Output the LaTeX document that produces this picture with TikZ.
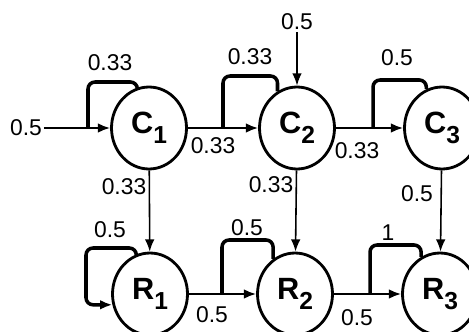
\documentclass[tikz,border=0pt]{standalone}
\usepackage{fontspec}
\setmainfont{Liberation Sans}
\usetikzlibrary{arrows.meta,shapes.geometric}
\def\state#1#2{\textbf{#1}\raisebox{-5.5pt}{\fontsize{14}{14}\selectfont\bfseries #2}}

\begin{document}
\begin{tikzpicture}[x=0.02cm,y=-0.02cm,
	st/.style={ellipse,draw,line width=1.6pt,minimum width=1.5cm,minimum height=1.64cm,inner sep=0pt,font=\fontsize{17.5}{17.5}\selectfont},
	lbl/.style={font=\fontsize{13}{14}\selectfont,inner sep=1pt},
	edge/.style={line width=1.1pt,-{Latex[length=7pt,width=5.5pt]}},
	down/.style={line width=0.9pt,-{Latex[length=7pt,width=5.5pt]}},
	loopy/.style={line width=2pt,rounded corners=4pt}]
	\useasboundingbox (0,0) rectangle (469,331);
	
	%STATES
	\node[st] (C1) at (149,128) {\state{C}{1}};
	\node[st] (C2) at (297,128) {\state{C}{2}};
	\node[st] (C3) at (442,128) {\state{C}{3}};
	\node[st] (R1) at (150,294) {\state{R}{1}};
	\node[st] (R2) at (295,294) {\state{R}{2}};
	\node[st] (R3) at (440,294) {\state{R}{3}};
	
	%LABELS
	\node[lbl] (in1) at (26,128)  {0.5};
	\node[lbl] (in2) at (297,22)  {0.5};
	\node[lbl] (p11) at (110,63)  {0.33};
	\node[lbl] (p22) at (250,57)  {0.33};
	\node[lbl] (p33) at (397,58)  {0.5};
	\node[lbl] (p12) at (213,146) {0.33};
	\node[lbl] (p23) at (357,151) {0.33};
	\node[lbl] (q1)  at (124,187) {0.33};
	\node[lbl] (q2)  at (271,185) {0.33};
	\node[lbl] (q3)  at (417,194) {0.5};
	\node[lbl] (r11) at (110,230) {0.5};
	\node[lbl] (r22) at (247,228) {0.5};
	\node[lbl] (r33) at (388,233) {1};
	\node[lbl] (r12) at (212,315) {0.5};
	\node[lbl] (r23) at (357,318) {0.5};
	
	%ARROWS
	%top row
	\draw[edge] (in1) -- (C1);
	\draw[edge] (C1) -- (C2);
	\draw[edge] (C2) -- (C3);
	\draw[down] (in2) -- (C2);
	%bottom row
	\draw[edge] (R1) -- (R2);
	\draw[edge] (R2) -- (R3);
	%columns
	\draw[down] (C1) -- (R1);
	\draw[down] (C2) -- (R2);
	\draw[down] (C3) -- (R3);
	
	%LOOPS
	\draw[loopy] (C1.106) |- (88,82)  -- (88,128);
	\draw[loopy] (C2.118) |- (223,76) -- (223,128);
	\draw[loopy] (C3.112) |- (373,80) -- (373,128);
	\draw[loopy,-{Latex[length=7pt,width=5.5pt]}] (R1.109) |- (86,248) |- (R1.196);
	\draw[loopy] (R2.122) |- (222,240) -- (222,294);
	\draw[loopy] (R3.117) |- (370,245) -- (370,294);
\end{tikzpicture}
\end{document}
